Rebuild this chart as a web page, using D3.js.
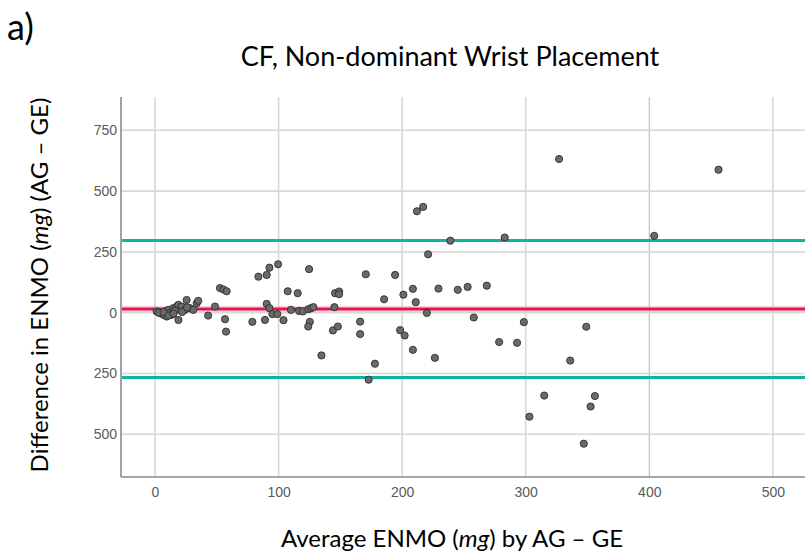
<!DOCTYPE html>
<html>
<head>
<meta charset="utf-8">
<script src="https://cdn.jsdelivr.net/npm/d3@7"></script>
<style>
  body { margin: 0; background: #fff; }
  svg { display: block; }
  .tick-label { font-family: "Liberation Sans", Arial, sans-serif; font-size: 14px; fill: #5a5a5a; }
  .big { font-family: Lato, "Open Sans", sans-serif; fill: #000; }
</style>
</head>
<body>
<div id="wrapper"></div>
<script>
// average ENMO (mg) by AG - GE
const avgValues = [
  1.4, 4, 6.8, 8, 10.8, 12, 9.4, 13.5, 14.8, 17.5, 18.9, 20, 21.6, 25.6, 24.3, 28.3, 31, 33.8, 35,
  19, 43, 48.6, 56.7, 57.5, 52.6, 55.5, 58, 3, 7, 11, 16, 22, 26, 15,
  78.8, 83.7, 89, 90.4, 92.6, 99.6, 90.4, 92.6, 95, 99, 104, 107.4, 110, 115.5, 116.6, 119.6,
  124.1, 126.3, 128.2, 124.7, 125.3, 124, 134.7, 145.2, 145.7, 149, 149, 144, 148, 166, 166,
  170.6, 178, 172.9, 185.4, 194.3, 198.4, 202, 201, 208.7, 211, 208.7, 212, 217, 220, 221,
  226.5, 229.4, 239, 245, 253, 258, 268.5, 278.5, 283, 293, 298.5, 303, 315, 327, 336, 347,
  349, 352.5, 356, 404, 456
]
// difference in ENMO (mg), AG - GE
const diffValues = [
  5, -2, -9, 5, 11.5, -2, -16, -9, 18.5, 25, 32, 11.5, 25, 52, 11.5, 18.5, 11.5, 39, 48.5,
  -30, -12, 25, -27, -78, 101, 95, 88, 0, 2, -12, 8, 3, 22, -4,
  -38, 148, -30, 155, 185, 199, 36, 18.5, -6, -6, -31, 88, 11.5, 80, 7, 5,
  14, 18.5, 22.6, 179, -38, -57, -176, 22.6, 80, 87, 76, -73, -57, -37, -88,
  158, -210, -276, 55, 155, -72, -94, 74, 98, 43, -153, 417, 435, -1, 240,
  -186, 99, 296, 94, 106, -20, 111, -121, 309, -124, -39, -428, -341, 632, -197, -539,
  -58, -386, -343, 316, 588
]

const meanDiff = 15
const limitsOfAgreement = [297, -267]

const xTicks = [0, 100, 200, 300, 400, 500]
const yTicks = [750, 500, 250, 0, -250, -500]
const yTickLabels = ['750', '500', '250', '0', '250', '500']

const points = avgValues.map((d, i) => ({ avg: d, diff: diffValues[i] }))

const width = 805
const height = 556
const plot = { left: 121, right: 805, top: 97, bottom: 477 }

const svg = d3.select('#wrapper').append('svg')
  .attr('width', width)
  .attr('height', height)

const xScale = d3.scaleLinear().domain([-27.5, 526]).range([plot.left, plot.right])
const yScale = d3.scaleLinear().domain([-676, 887]).range([plot.bottom, plot.top])

// grid
svg.append('g').selectAll('line')
  .data(xTicks)
  .join('line')
    .attr('x1', d => xScale(d)).attr('x2', d => xScale(d))
    .attr('y1', plot.top).attr('y2', plot.bottom)
    .attr('stroke', d => d == 400 ? '#b4b4b4' : '#d8d8d8')
    .attr('stroke-width', d => d == 400 ? 1 : 1.6)

svg.append('g').selectAll('line')
  .data(yTicks)
  .join('line')
    .attr('x1', plot.left).attr('x2', plot.right)
    .attr('y1', d => yScale(d)).attr('y2', d => yScale(d))
    .attr('stroke', '#d8d8d8')
    .attr('stroke-width', 1.6)

// axes
const xAxis = d3.axisBottom(xScale).tickValues(xTicks).tickSize(0).tickPadding(10)
const yAxis = d3.axisLeft(yScale).tickValues(yTicks).tickSize(0).tickPadding(4)
  .tickFormat((d, i) => yTickLabels[i])

const gx = svg.append('g').attr('transform', `translate(0,${plot.bottom})`).call(xAxis)
const gy = svg.append('g').attr('transform', `translate(${plot.left},0)`).call(yAxis)
;[gx, gy].forEach(g => {
  g.select('.domain').attr('stroke', '#8a8a8a').attr('stroke-width', 1.6)
  g.selectAll('text').attr('class', 'tick-label').attr('fill', null)
})
gx.select('.domain').attr('d', `M${plot.left},0H${plot.right}`)
gy.select('.domain').attr('d', `M0,${plot.top}V${plot.bottom}`)

// limits of agreement and mean difference
svg.append('g').selectAll('line')
  .data(limitsOfAgreement)
  .join('line')
    .attr('x1', plot.left + 1).attr('x2', plot.right)
    .attr('y1', d => yScale(d)).attr('y2', d => yScale(d))
    .attr('stroke', '#10b39c')
    .attr('stroke-width', 3)

svg.append('line')
  .attr('x1', plot.left + 1).attr('x2', plot.right)
  .attr('y1', yScale(meanDiff)).attr('y2', yScale(meanDiff))
  .attr('stroke', '#f4a0b4')
  .attr('stroke-width', 5)
svg.append('line')
  .attr('x1', plot.left + 1).attr('x2', plot.right)
  .attr('y1', yScale(meanDiff)).attr('y2', yScale(meanDiff))
  .attr('stroke', '#e0154c')
  .attr('stroke-width', 2.6)

// points
svg.append('g').selectAll('circle')
  .data(points)
  .join('circle')
    .attr('cx', d => xScale(d.avg))
    .attr('cy', d => yScale(d.diff))
    .attr('r', 3.6)
    .attr('fill', '#6a6a6a')
    .attr('stroke', '#2e2e2e')
    .attr('stroke-width', 0.9)

// texts
svg.append('text')
  .attr('class', 'big')
  .attr('x', 7).attr('y', 40)
  .style('font-size', '36px')
  .text('a)')

svg.append('text')
  .attr('class', 'big')
  .attr('x', 450).attr('y', 66)
  .attr('text-anchor', 'middle')
  .style('font-size', '27px')
  .text('CF, Non-dominant Wrist Placement')

const xTitle = svg.append('text')
  .attr('class', 'big')
  .attr('x', 452).attr('y', 547)
  .attr('text-anchor', 'middle')
  .style('font-size', '24px')
xTitle.append('tspan').text('Average ENMO (')
xTitle.append('tspan').style('font-style', 'italic').text('mg')
xTitle.append('tspan').text(') by AG \u2013 GE')

const yTitle = svg.append('text')
  .attr('class', 'big')
  .attr('transform', 'translate(48,285) rotate(-90)')
  .attr('text-anchor', 'middle')
  .style('font-size', '24px')
yTitle.append('tspan').text('Difference in ENMO (')
yTitle.append('tspan').style('font-style', 'italic').text('mg')
yTitle.append('tspan').text(') (AG \u2013 GE)')
</script>
</body>
</html>
